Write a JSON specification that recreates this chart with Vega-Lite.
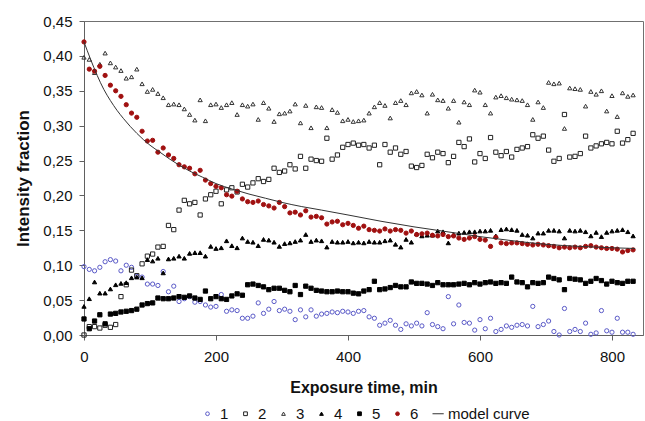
{
  "$schema": "https://vega.github.io/schema/vega-lite/v6.json",
  "width": 559,
  "height": 314,
  "autosize": "none",
  "padding": {"left": 84, "top": 21, "right": 2, "bottom": 86},
  "background": "white",
  "config": {
    "font": "Liberation Sans",
    "view": {"stroke": "#707070", "strokeWidth": 1},
    "axis": {"grid": false, "domainColor": "#606060", "tickColor": "#606060", "tickSize": 5, "labelFontSize": 15, "labelColor": "#111", "titleFontSize": 16, "titleFontWeight": "bold", "titleColor": "#111", "labelOverlap": false, "labelFlush": false},
    "legend": {"labelFontSize": 15, "labelColor": "#111", "padding": 0}
  },
  "datasets": {
    "pts": [
      {"t":0,"1":0.098,"2":0.000,"3":0.398,"4":0.041,"5":0.023,"6":0.420},
      {"t":8,"1":0.094,"2":0.012,"3":0.395,"4":0.052,"5":0.009,"6":0.381},
      {"t":16,"1":0.092,"2":0.012,"3":0.376,"4":0.076,"5":0.020,"6":0.378},
      {"t":24,"1":0.097,"2":0.010,"3":0.388,"4":0.060,"5":0.029,"6":0.385},
      {"t":32,"1":0.105,"2":0.014,"3":0.404,"4":0.060,"5":0.016,"6":0.372},
      {"t":40,"1":0.108,"2":0.011,"3":0.390,"4":0.066,"5":0.030,"6":0.358},
      {"t":48,"1":0.106,"2":0.015,"3":0.384,"4":0.072,"5":0.031,"6":0.350},
      {"t":56,"1":0.092,"2":0.055,"3":0.379,"4":0.074,"5":0.033,"6":0.342},
      {"t":64,"1":0.100,"2":0.072,"3":0.368,"4":0.075,"5":0.034,"6":0.330},
      {"t":72,"1":0.097,"2":0.093,"3":0.370,"4":0.082,"5":0.035,"6":0.318},
      {"t":80,"1":0.084,"2":0.085,"3":0.381,"4":0.083,"5":0.037,"6":0.312},
      {"t":88,"1":0.083,"2":0.102,"3":0.360,"4":0.082,"5":0.043,"6":0.292},
      {"t":96,"1":0.073,"2":0.113,"3":0.349,"4":0.108,"5":0.045,"6":0.278},
      {"t":104,"1":0.073,"2":0.116,"3":0.352,"4":0.106,"5":0.046,"6":0.279},
      {"t":112,"1":0.071,"2":0.126,"3":0.346,"4":0.110,"5":0.053,"6":0.262},
      {"t":120,"1":0.091,"2":0.127,"3":0.340,"4":0.089,"5":0.052,"6":0.268},
      {"t":128,"1":0.062,"2":0.157,"3":0.330,"4":0.109,"5":0.052,"6":0.258},
      {"t":136,"1":0.070,"2":0.151,"3":0.331,"4":0.110,"5":0.053,"6":0.253},
      {"t":144,"1":0.048,"2":0.179,"3":0.330,"4":0.113,"5":0.055,"6":0.244},
      {"t":152,"1":0.052,"2":0.193,"3":0.324,"4":0.110,"5":0.054,"6":0.241},
      {"t":160,"1":0.055,"2":0.188,"3":0.316,"4":0.117,"5":0.056,"6":0.239},
      {"t":168,"1":0.047,"2":0.190,"3":0.308,"4":0.118,"5":0.053,"6":0.231},
      {"t":176,"1":0.048,"2":0.172,"3":0.337,"4":0.118,"5":0.051,"6":0.236},
      {"t":184,"1":0.043,"2":0.195,"3":0.307,"4":0.113,"5":0.063,"6":0.222},
      {"t":192,"1":0.040,"2":0.201,"3":0.330,"4":0.127,"5":0.052,"6":0.217},
      {"t":200,"1":0.041,"2":0.206,"3":0.331,"4":0.124,"5":0.055,"6":0.213},
      {"t":208,"1":0.058,"2":0.188,"3":0.326,"4":0.125,"5":0.052,"6":0.211},
      {"t":216,"1":0.034,"2":0.208,"3":0.330,"4":0.135,"5":0.051,"6":0.201},
      {"t":224,"1":0.036,"2":0.211,"3":0.333,"4":0.128,"5":0.056,"6":0.199},
      {"t":232,"1":0.035,"2":0.205,"3":0.316,"4":0.125,"5":0.059,"6":0.206},
      {"t":240,"1":0.024,"2":0.216,"3":0.330,"4":0.139,"5":0.057,"6":0.195},
      {"t":248,"1":0.024,"2":0.212,"3":0.328,"4":0.134,"5":0.072,"6":0.191},
      {"t":256,"1":0.027,"2":0.218,"3":0.331,"4":0.133,"5":0.073,"6":0.190},
      {"t":264,"1":0.046,"2":0.224,"3":0.309,"4":0.128,"5":0.071,"6":0.192},
      {"t":272,"1":0.031,"2":0.220,"3":0.333,"4":0.137,"5":0.069,"6":0.187},
      {"t":280,"1":0.037,"2":0.223,"3":0.325,"4":0.136,"5":0.065,"6":0.185},
      {"t":288,"1":0.048,"2":0.239,"3":0.306,"4":0.133,"5":0.067,"6":0.182},
      {"t":296,"1":0.035,"2":0.233,"3":0.317,"4":0.127,"5":0.067,"6":0.190},
      {"t":304,"1":0.037,"2":0.235,"3":0.318,"4":0.131,"5":0.064,"6":0.184},
      {"t":312,"1":0.034,"2":0.244,"3":0.321,"4":0.132,"5":0.062,"6":0.175},
      {"t":320,"1":0.022,"2":0.238,"3":0.331,"4":0.134,"5":0.071,"6":0.176},
      {"t":328,"1":0.036,"2":0.256,"3":0.304,"4":0.136,"5":0.058,"6":0.172},
      {"t":336,"1":0.026,"2":0.239,"3":0.329,"4":0.144,"5":0.070,"6":0.178},
      {"t":344,"1":0.036,"2":0.252,"3":0.297,"4":0.134,"5":0.067,"6":0.169},
      {"t":352,"1":0.027,"2":0.250,"3":0.327,"4":0.136,"5":0.064,"6":0.170},
      {"t":360,"1":0.030,"2":0.249,"3":0.326,"4":0.135,"5":0.063,"6":0.168},
      {"t":368,"1":0.031,"2":0.282,"3":0.297,"4":0.126,"5":0.062,"6":0.159},
      {"t":376,"1":0.033,"2":0.252,"3":0.323,"4":0.134,"5":0.062,"6":0.162},
      {"t":384,"1":0.032,"2":0.258,"3":0.319,"4":0.133,"5":0.063,"6":0.163},
      {"t":392,"1":0.034,"2":0.269,"3":0.307,"4":0.133,"5":0.062,"6":0.158},
      {"t":400,"1":0.033,"2":0.273,"3":0.309,"4":0.134,"5":0.062,"6":0.160},
      {"t":408,"1":0.031,"2":0.275,"3":0.306,"4":0.132,"5":0.060,"6":0.157},
      {"t":416,"1":0.034,"2":0.272,"3":0.307,"4":0.133,"5":0.059,"6":0.153},
      {"t":424,"1":0.035,"2":0.273,"3":0.308,"4":0.132,"5":0.063,"6":0.156},
      {"t":432,"1":0.026,"2":0.268,"3":0.318,"4":0.134,"5":0.065,"6":0.151},
      {"t":440,"1":0.024,"2":0.272,"3":0.327,"4":0.133,"5":0.077,"6":0.150},
      {"t":448,"1":0.014,"2":0.244,"3":0.333,"4":0.133,"5":0.065,"6":0.149},
      {"t":456,"1":0.017,"2":0.273,"3":0.329,"4":0.135,"5":0.066,"6":0.152},
      {"t":464,"1":0.021,"2":0.262,"3":0.311,"4":0.136,"5":0.068,"6":0.149},
      {"t":472,"1":0.014,"2":0.268,"3":0.333,"4":0.130,"5":0.071,"6":0.151},
      {"t":480,"1":0.008,"2":0.259,"3":0.336,"4":0.126,"5":0.069,"6":0.150},
      {"t":488,"1":0.016,"2":0.263,"3":0.330,"4":0.137,"5":0.069,"6":0.146},
      {"t":496,"1":0.013,"2":0.242,"3":0.347,"4":0.133,"5":0.076,"6":0.149},
      {"t":504,"1":0.017,"2":0.240,"3":0.349,"4":0.145,"5":0.074,"6":0.144},
      {"t":512,"1":0.013,"2":0.243,"3":0.344,"4":0.142,"5":0.074,"6":0.145},
      {"t":520,"1":0.032,"2":0.259,"3":0.318,"4":0.143,"5":0.073,"6":0.146},
      {"t":528,"1":0.015,"2":0.254,"3":0.345,"4":0.143,"5":0.071,"6":0.143},
      {"t":536,"1":0.012,"2":0.262,"3":0.337,"4":0.149,"5":0.075,"6":0.142},
      {"t":544,"1":0.009,"2":0.260,"3":0.336,"4":0.148,"5":0.072,"6":0.144},
      {"t":552,"1":0.055,"2":0.247,"3":0.325,"4":0.132,"5":0.072,"6":0.141},
      {"t":560,"1":0.016,"2":0.256,"3":0.336,"4":0.144,"5":0.072,"6":0.142},
      {"t":568,"1":0.043,"2":0.276,"3":0.305,"4":0.146,"5":0.073,"6":0.139},
      {"t":576,"1":0.018,"2":0.270,"3":0.334,"4":0.147,"5":0.074,"6":0.137},
      {"t":584,"1":0.017,"2":0.281,"3":0.330,"4":0.148,"5":0.072,"6":0.139},
      {"t":592,"1":0.007,"2":0.248,"3":0.351,"4":0.148,"5":0.075,"6":0.141},
      {"t":600,"1":0.022,"2":0.260,"3":0.348,"4":0.149,"5":0.073,"6":0.137},
      {"t":608,"1":0.009,"2":0.253,"3":0.330,"4":0.149,"5":0.075,"6":0.136},
      {"t":616,"1":0.024,"2":0.283,"3":0.318,"4":0.150,"5":0.076,"6":0.127},
      {"t":624,"1":0.005,"2":0.262,"3":0.341,"4":0.142,"5":0.074,"6":0.140},
      {"t":632,"1":0.008,"2":0.257,"3":0.343,"4":0.151,"5":0.075,"6":0.132},
      {"t":640,"1":0.013,"2":0.263,"3":0.340,"4":0.152,"5":0.074,"6":0.131},
      {"t":648,"1":0.011,"2":0.255,"3":0.338,"4":0.151,"5":0.083,"6":0.132},
      {"t":656,"1":0.014,"2":0.266,"3":0.337,"4":0.150,"5":0.076,"6":0.132},
      {"t":664,"1":0.015,"2":0.268,"3":0.336,"4":0.144,"5":0.075,"6":0.131},
      {"t":672,"1":0.013,"2":0.270,"3":0.330,"4":0.143,"5":0.069,"6":0.130},
      {"t":680,"1":0.041,"2":0.287,"3":0.309,"4":0.139,"5":0.075,"6":0.129},
      {"t":688,"1":0.012,"2":0.282,"3":0.334,"4":0.146,"5":0.074,"6":0.130},
      {"t":696,"1":0.015,"2":0.285,"3":0.326,"4":0.146,"5":0.075,"6":0.129},
      {"t":704,"1":0.020,"2":0.265,"3":0.362,"4":0.150,"5":0.083,"6":0.128},
      {"t":712,"1":0.005,"2":0.249,"3":0.360,"4":0.150,"5":0.081,"6":0.127},
      {"t":720,"1":0.000,"2":0.253,"3":0.361,"4":0.149,"5":0.079,"6":0.125},
      {"t":728,"1":0.038,"2":0.316,"3":0.296,"4":0.139,"5":0.065,"6":0.126},
      {"t":736,"1":0.005,"2":0.255,"3":0.354,"4":0.150,"5":0.081,"6":0.125},
      {"t":744,"1":0.008,"2":0.256,"3":0.353,"4":0.149,"5":0.080,"6":0.126},
      {"t":752,"1":0.005,"2":0.260,"3":0.352,"4":0.150,"5":0.079,"6":0.125},
      {"t":760,"1":0.017,"2":0.285,"3":0.328,"4":0.148,"5":0.074,"6":0.127},
      {"t":768,"1":0.001,"2":0.268,"3":0.349,"4":0.142,"5":0.077,"6":0.128},
      {"t":776,"1":0.003,"2":0.271,"3":0.345,"4":0.147,"5":0.081,"6":0.126},
      {"t":784,"1":0.035,"2":0.274,"3":0.350,"4":0.141,"5":0.078,"6":0.125},
      {"t":792,"1":0.006,"2":0.276,"3":0.321,"4":0.147,"5":0.073,"6":0.124},
      {"t":800,"1":0.004,"2":0.274,"3":0.343,"4":0.149,"5":0.077,"6":0.124},
      {"t":808,"1":0.024,"2":0.292,"3":0.313,"4":0.150,"5":0.075,"6":0.123},
      {"t":816,"1":0.004,"2":0.275,"3":0.347,"4":0.151,"5":0.074,"6":0.119},
      {"t":824,"1":0.004,"2":0.280,"3":0.342,"4":0.148,"5":0.077,"6":0.121},
      {"t":832,"1":0.001,"2":0.289,"3":0.344,"4":0.142,"5":0.077,"6":0.122}
    ],
    "curve": [
      {"t":0,"v":0.420},{"t":10,"v":0.395},{"t":20,"v":0.372},{"t":30,"v":0.352},
      {"t":40,"v":0.336},{"t":50,"v":0.322},{"t":60,"v":0.310},{"t":70,"v":0.299},
      {"t":80,"v":0.289},{"t":90,"v":0.280},{"t":100,"v":0.272},{"t":115,"v":0.262},
      {"t":130,"v":0.252},{"t":145,"v":0.243},{"t":160,"v":0.235},{"t":180,"v":0.226},
      {"t":200,"v":0.217},{"t":225,"v":0.209},{"t":250,"v":0.202},{"t":275,"v":0.196},
      {"t":300,"v":0.190},{"t":330,"v":0.184},{"t":360,"v":0.179},{"t":400,"v":0.172},
      {"t":450,"v":0.163},{"t":500,"v":0.155},{"t":550,"v":0.148},{"t":600,"v":0.141},
      {"t":650,"v":0.135},{"t":700,"v":0.130},{"t":750,"v":0.127},{"t":800,"v":0.125},
      {"t":835,"v":0.124}
    ]
  },
  "encoding": {
    "x": {"field": "t", "type": "quantitative", "scale": {"domain": [0, 847], "nice": false},
          "axis": {"values": [0, 200, 400, 600, 800], "title": "Exposure time, min", "labelPadding": 9, "titlePadding": 15}},
    "y": {"field": "v", "type": "quantitative", "scale": {"domain": [0, 0.45], "nice": false},
          "axis": {"values": [0, 0.05, 0.1, 0.15, 0.2, 0.25, 0.3, 0.35, 0.4, 0.45], "labelExpr": "replace(format(datum.value, '.2f'), '.', ',')", "labelOverlap": false, "title": "Intensity fraction", "titleFontSize": 17, "labelPadding": 7, "titlePadding": 10}}
  },
  "layer": [
    {
      "data": {"name": "pts"},
      "transform": [{"fold": ["1", "2", "3", "4", "5", "6"], "as": ["s", "v"]}],
      "mark": {"type": "point", "size": 18, "strokeWidth": 1, "opacity": 1},
      "encoding": {
        "shape": {"field": "s", "type": "nominal",
          "scale": {"domain": ["1", "2", "3", "4", "5", "6", "model curve"], "range": ["circle", "square", "triangle-up", "triangle-up", "square", "circle", "M-1.6,0H4.4"]},
          "legend": {"orient": "none", "direction": "horizontal", "legendX": 116, "legendY": 385, "title": null, "symbolSize": 14, "symbolStrokeWidth": 1, "labelOffset": 5, "columnPadding": 9, "columns": 7}},
        "stroke": {"field": "s", "type": "nominal",
          "scale": {"domain": ["1", "2", "3", "4", "5", "6", "model curve"], "range": ["#5a5ac8", "#222222", "#333333", "#000000", "#000000", "#a01010", "#333333"]}},
        "fill": {"field": "s", "type": "nominal",
          "scale": {"domain": ["1", "2", "3", "4", "5", "6", "model curve"], "range": ["transparent", "transparent", "transparent", "#000000", "#000000", "#a01010", "transparent"]}}
      }
    },
    {
      "data": {"name": "curve"},
      "mark": {"type": "line", "stroke": "#333333", "strokeWidth": 1, "interpolate": "monotone"},
      "encoding": {}
    }
  ]
}
